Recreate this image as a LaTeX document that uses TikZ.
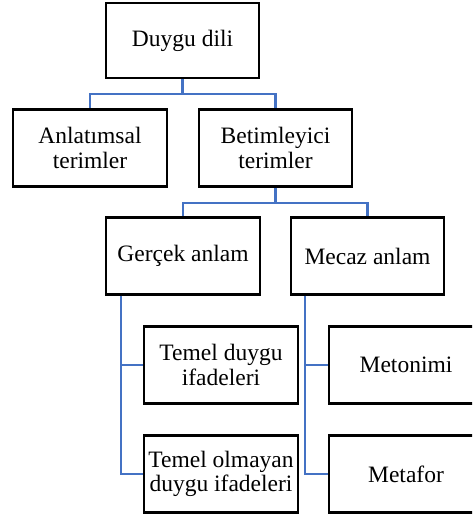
\documentclass[tikz,border=0pt]{standalone}
\usepackage{fontspec}
\setmainfont{Liberation Serif}
\definecolor{connblue}{HTML}{4472C4}
\begin{document}
\begin{tikzpicture}[x=1pt,y=1pt,
  box/.style={draw=black, line width=2.4pt, fill=white, minimum width=154pt, minimum height=77pt,
    align=center, inner sep=0pt, font=\fontsize{23.5}{24.5}\selectfont},
  conn/.style={draw=connblue, line width=2.3pt}]
\useasboundingbox (0,0) rectangle (472,-518);
\clip (0,0) rectangle (472,-518);
\node[box, minimum width=153pt, minimum height=75pt] (dd) at (182.5,-40.5) {Duygu dili};
\node[box] (an) at (90,-148) {Anlatımsal\\terimler};
\node[box, minimum width=153pt] (be) at (275.5,-148) {Betimleyici\\terimler};
\node[box] (ge) at (183,-256) {Gerçek anlam};
\node[box, minimum width=153pt] (me) at (367.5,-256) {Mecaz anlam};
\node[box] (td) at (221,-365) {Temel duygu\\ifadeleri};
\node[box] (to) at (221,-474) {Temel olmayan\\duygu ifadeleri};
\node[box] (mt) at (406,-365) {Metonimi};
\node[box] (mf) at (406,-474) {Metafor};
\coordinate (j1) at (182.5,-94);
\coordinate (j2) at (275.5,-203);
\draw[conn] (dd.south) -- (j1) -| (an.north);
\draw[conn] (j1) -| (be.north);
\draw[conn] (be.south) -- (j2) -| (ge.north);
\draw[conn] (j2) -| (me.north);
\coordinate (g1) at ([xshift=16pt]ge.south west);
\coordinate (m1) at ([xshift=15pt]me.south west);
\draw[conn] (g1) |- (to.west);
\draw[conn] (g1 |- td.west) -- (td.west);
\draw[conn] (m1) |- (mf.west);
\draw[conn] (m1 |- mt.west) -- (mt.west);
\end{tikzpicture}
\end{document}
